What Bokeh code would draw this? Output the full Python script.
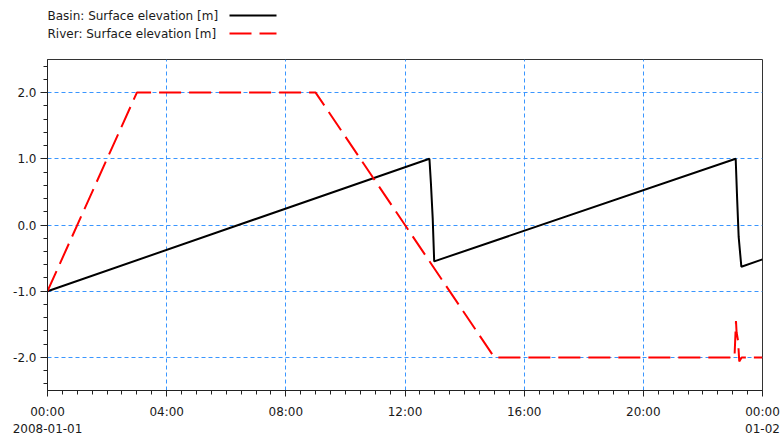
from bokeh.plotting import figure
from bokeh.layouts import column
from bokeh.models import (Range1d, FixedTicker, LinearAxis, PrintfTickFormatter,
                          Grid, ColumnDataSource)
from bokeh.core.properties import value
from bokeh.embed import file_html
from bokeh.resources import INLINE

# ---- data (hours since 2008-01-01 00:00) ----
basin_t = [0.0, 12.82, 12.87, 12.93, 12.98, 23.10, 23.15, 23.20, 23.29, 24.0]
basin_v = [-1.0, 1.0, 0.63, 0.10, -0.55, 1.0, 0.38, -0.18, -0.63, -0.52]

river_t = [0.0, 3.0, 9.0, 15.0, 23.06, 23.11, 23.13, 23.18, 23.22, 23.30, 24.0]
river_v = [-1.0, 2.0, 2.0, -2.0, -2.0, -1.45, -1.62, -1.75, -2.06, -2.0, -2.0]

x_ticks = [0, 4, 8, 12, 16, 20, 24]
x_labels = ["00:00", "04:00", "08:00", "12:00", "16:00", "20:00", "00:00"]
date_ticks = [0, 24]
date_labels = ["2008-01-01", "01-02"]
y_ticks = [-2, -1, 0, 1, 2]

legend_names = ["Basin: Surface elevation [m]", "River: Surface elevation [m]"]
legend_colors = ["black", "#ff0000"]
legend_dashes = ["solid", "22 8"]

FONT = "DejaVu Sans"
FS = "12px"
TXT = "#1a1a1a"
GRID = "#3a96ff"
W = 784
H = 435
LEG_H = 45
MAIN_H = H - LEG_H
BL, BR = 47, 22          # left/right borders (frame spans 47..762)

# ---------------- legend strip ----------------
lg = figure(width=W, height=LEG_H, output_backend="svg", toolbar_location=None,
            x_range=Range1d(BL, W - BR), y_range=Range1d(LEG_H, 0),
            x_axis_type=None, y_axis_type=None,
            min_border_left=BL, min_border_right=BR, min_border_top=0,
            min_border_bottom=0, outline_line_color=None)
lg.grid.visible = False
row_y = [15, 33]
lg.text(x=[47, 47], y=row_y, text=legend_names, text_font=value(FONT),
        text_font_size=FS, text_color=TXT, text_baseline="middle",
        text_align="left")
for yy, col, dash in zip(row_y, legend_colors, legend_dashes):
    lg.line(x=[229, 276], y=[yy, yy], line_color=col, line_width=2, line_dash=dash)

# ---------------- main chart ----------------
p = figure(width=W, height=MAIN_H, output_backend="svg", toolbar_location=None,
           x_range=Range1d(0, 24), y_range=Range1d(-2.5, 2.5),
           min_border_left=BL, min_border_right=BR, min_border_top=14,
           min_border_bottom=45, x_axis_type=None, background_fill_color="white",
           border_fill_color="white")
p.outline_line_color = "#333333"
p.outline_line_width = 1

ya = p.yaxis[0]
ya.ticker = FixedTicker(ticks=y_ticks,
                        minor_ticks=[round(-2.4 + 0.2 * i, 1) for i in range(25)])
ya.formatter = PrintfTickFormatter(format="%.1f")
ya.major_tick_out = 7
ya.major_tick_in = 0
ya.minor_tick_out = 4
ya.minor_tick_in = 0
ya.major_label_standoff = 4
ya.major_label_text_font = FONT
ya.major_label_text_font_size = FS
ya.major_label_text_color = TXT
ya.axis_line_color = "#222222"
ya.major_tick_line_color = "#222222"
ya.minor_tick_line_color = "#222222"

xa = LinearAxis(ticker=FixedTicker(ticks=x_ticks,
                                   minor_ticks=[0.5 * i for i in range(49)]))
xa.major_label_overrides = {t: l for t, l in zip(x_ticks, x_labels)}
xa.major_tick_out = 6
xa.major_tick_in = 0
xa.minor_tick_out = 4
xa.minor_tick_in = 0
xa.major_label_standoff = 8
xa.major_label_text_font = FONT
xa.major_label_text_font_size = FS
xa.major_label_text_color = TXT
xa.axis_line_color = "#222222"
xa.major_tick_line_color = "#222222"
xa.minor_tick_line_color = "#222222"
p.add_layout(xa, "below")

xd = LinearAxis(ticker=FixedTicker(ticks=date_ticks, minor_ticks=[]))
xd.major_label_overrides = {t: l for t, l in zip(date_ticks, date_labels)}
xd.axis_line_color = None
xd.major_tick_line_color = None
xd.minor_tick_line_color = None
xd.major_tick_out = 0
xd.major_tick_in = 0
xd.major_label_standoff = 2
xd.major_label_text_font = FONT
xd.major_label_text_font_size = FS
xd.major_label_text_color = TXT
p.add_layout(xd, "below")

p.ygrid.ticker = FixedTicker(ticks=y_ticks)
xg = Grid(dimension=0, ticker=FixedTicker(ticks=x_ticks[1:-1]))
p.add_layout(xg)
for g in (xg, p.ygrid[0]):
    g.grid_line_color = GRID
    g.grid_line_dash = "4 3"
    g.grid_line_width = 1

basin_src = ColumnDataSource(dict(t=basin_t, v=basin_v))
river_src = ColumnDataSource(dict(t=river_t, v=river_v))
p.line("t", "v", source=basin_src, line_color="black", line_width=2)
p.line("t", "v", source=river_src, line_color="#ff0000", line_width=2,
       line_dash="22 8")

layout = column(lg, p, spacing=0)
open("out.html", "w").write(file_html(layout, INLINE))
